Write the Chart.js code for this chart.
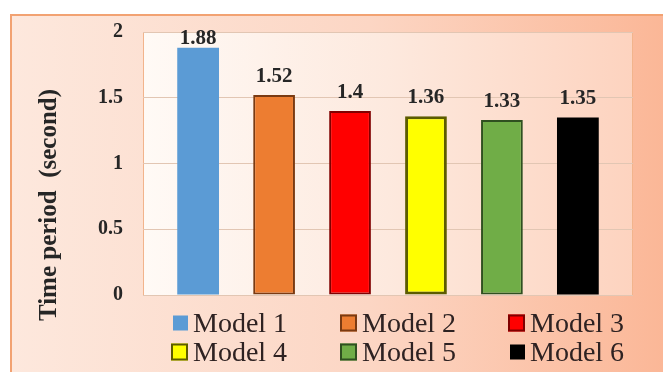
<!DOCTYPE html>
<html>
<head>
<meta charset="utf-8">
<script src="https://cdn.jsdelivr.net/npm/chart.js@4.4.0/dist/chart.umd.min.js"></script>
<style>
  html, body { margin: 0; padding: 0; background: #fff; overflow: hidden; }
  #wrap { width: 663px; height: 372px; position: relative; }
</style>
</head>
<body>
<div id="wrap"><canvas id="chart"></canvas></div>
<script>
// data
const models = ["Model 1", "Model 2", "Model 3", "Model 4", "Model 5", "Model 6"];
const times = [1.88, 1.52, 1.4, 1.36, 1.33, 1.35];
const yTicks = [0, 0.5, 1, 1.5, 2];

// styles
const fillColors = ["#5b9bd5", "#ed7d31", "#ff0000", "#ffff00", "#70ad47", "#000000"];
const edgeColors = ["#5b9bd5", "#7a3a12", "#800000", "#5c5c00", "#2f5020", "#000000"];
const edgeWidths = [0, 2, 2, 3, 2, 0];

const serif = "'Liberation Serif', 'Times New Roman', serif";

// 背景和坐标轴标题
const panelPlugin = {
  id: "panel",
  beforeDraw(chart) {
    const { ctx, width, height, chartArea: a } = chart;
    ctx.save();
    ctx.fillStyle = "#ffffff";
    ctx.fillRect(0, 0, width, height);

    const g = ctx.createLinearGradient(10, 0, width, 0);
    g.addColorStop(0, "#fde8dd");
    g.addColorStop(0.55, "#fcd6c4");
    g.addColorStop(1, "#fbb797");
    ctx.fillStyle = g;
    ctx.fillRect(10, 14, width, height);
    ctx.strokeStyle = "#f2a272";
    ctx.lineWidth = 2;
    ctx.strokeRect(11, 15, width + 10, height + 10);

    const pg = ctx.createLinearGradient(a.left, 0, a.right, 0);
    pg.addColorStop(0, "#fffaf6");
    pg.addColorStop(0.5, "#fde9de");
    pg.addColorStop(1, "#fdd3bf");
    ctx.fillStyle = pg;
    ctx.fillRect(a.left, a.top, a.width, a.height);
    ctx.strokeStyle = "#f2b48c";
    ctx.lineWidth = 1;
    ctx.strokeRect(a.left + 0.5, a.top + 0.5, a.width - 1, a.height);

    ctx.translate(50, 205);
    ctx.rotate(-Math.PI / 2);
    ctx.font = "bold 25px " + serif;
    ctx.fillStyle = "#262626";
    ctx.textAlign = "center";
    ctx.textBaseline = "middle";
    ctx.fillText("Time period  (second)", 0, 0);
    ctx.restore();
  },
};

// 柱顶数值
const valuePlugin = {
  id: "values",
  afterDatasetsDraw(chart) {
    const { ctx, chartArea: a } = chart;
    ctx.save();
    ctx.font = "bold 21px " + serif;
    ctx.fillStyle = "#262626";
    ctx.textAlign = "center";
    ctx.textBaseline = "alphabetic";
    chart.data.datasets.forEach((ds, i) => {
      chart.getDatasetMeta(i).data.forEach((bar, j) => {
        const y = Math.max(bar.y - 13, a.top + 12);
        ctx.fillText(String(ds.data[j]), bar.x, y);
      });
    });
    ctx.restore();
  },
};

// 三列图例
const legendPlugin = {
  id: "gridLegend",
  afterDraw(chart) {
    const { ctx } = chart;
    const textX = [193, 362, 530];
    const baseY = [332, 361];
    ctx.save();
    ctx.font = "28px " + serif;
    ctx.textBaseline = "alphabetic";
    ctx.textAlign = "left";
    chart.data.datasets.forEach((ds, i) => {
      const col = i % 3;
      const row = Math.floor(i / 3);
      const size = ds.borderWidth ? 17 : 15;
      const bx = textX[col] - 5 - size;
      const by = baseY[row] - 9 - size / 2;
      ctx.fillStyle = ds.backgroundColor;
      ctx.fillRect(bx, by, size, size);
      if (ds.borderWidth) {
        ctx.strokeStyle = ds.borderColor;
        ctx.lineWidth = 2;
        ctx.strokeRect(bx + 1, by + 1, size - 2, size - 2);
      }
      ctx.fillStyle = "#2e2222";
      ctx.fillText(ds.label, textX[col], baseY[row]);
    });
    ctx.restore();
  },
};

const ctx = document.getElementById("chart").getContext("2d");
new Chart(ctx, {
  type: "bar",
  data: {
    labels: [""],
    datasets: models.map((m, i) => ({
      label: m,
      data: [times[i]],
      backgroundColor: fillColors[i],
      borderColor: edgeColors[i],
      borderWidth: edgeWidths[i],
      borderSkipped: false,
      barPercentage: 0.55,
      categoryPercentage: 0.93,
    })),
  },
  options: {
    responsive: true,
    maintainAspectRatio: false,
    animation: false,
    devicePixelRatio: 1,
    layout: {
      padding: { left: 10, right: 30, top: 30, bottom: 77 },
    },
    plugins: {
      legend: { display: false },
      tooltip: { enabled: false },
    },
    scales: {
      x: { display: false },
      y: {
        min: 0,
        max: 2,
        afterBuildTicks: (scale) => {
          scale.ticks = yTicks.map((v) => ({ value: v }));
        },
        afterFit: (scale) => {
          scale.width = 133;
        },
        grid: { color: "#e2c6b3", drawTicks: false },
        border: { display: false },
        ticks: {
          padding: 20,
          color: "#262626",
          font: { family: serif, size: 20, weight: "bold" },
          callback: (v) => String(v),
        },
      },
    },
  },
  plugins: [panelPlugin, valuePlugin, legendPlugin],
});
</script>
</body>
</html>
